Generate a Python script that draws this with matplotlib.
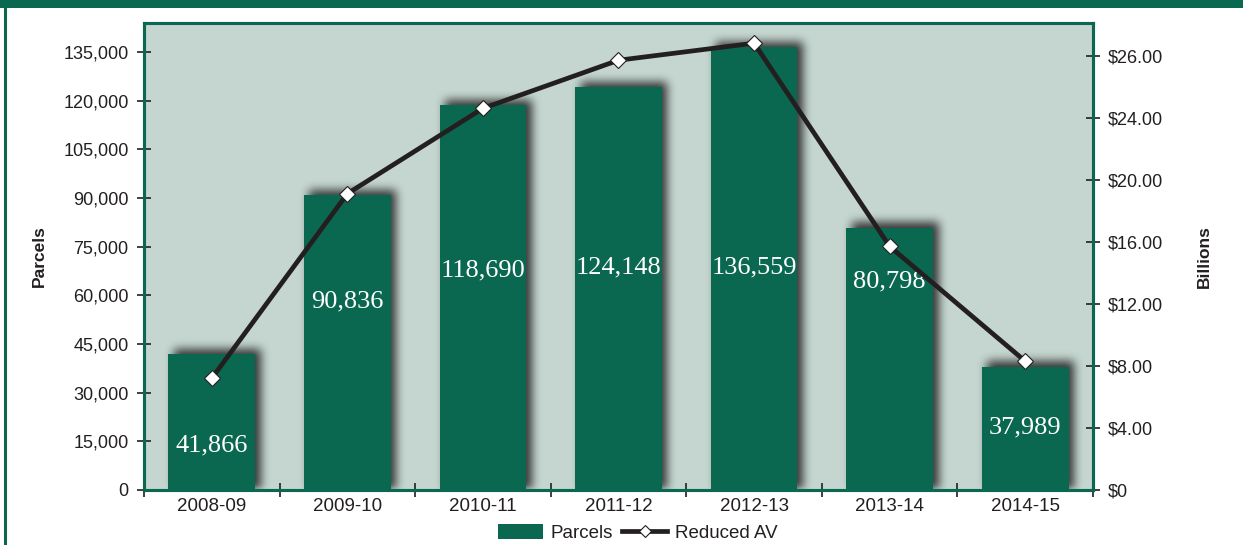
import numpy as np
import matplotlib
matplotlib.use("Agg")
import matplotlib.pyplot as plt
from matplotlib.patches import Rectangle, Patch
from matplotlib.lines import Line2D
from matplotlib.ticker import FixedLocator, FuncFormatter

years = ["2008-09", "2009-10", "2010-11", "2011-12", "2012-13", "2013-14", "2014-15"]
parcels = [41866, 90836, 118690, 124148, 136559, 80798, 37989]
reduced_av = [7.2, 19.1, 24.6, 27.7, 28.8, 15.7, 8.3]  # billions
av_ticks = [0, 4, 8, 12, 16, 20, 24, 28]
av_tick_labels = ["$0", "$4.00", "$8.00", "$12.00", "$16.00", "$20.00", "$24.00", "$26.00"]

# vertical placement of the value labels inside the bars
label_y = [13600, 58000, 67600, 68500, 68500, 64200, 19400]

GREEN = "#0a6850"
PLOT_BG = "#c4d6cf"
INK = "#231f20"

plt.rcParams["font.family"] = ["Liberation Sans", "DejaVu Sans"]

fig = plt.figure(figsize=(12.43, 5.45), dpi=100)
fig.patch.set_facecolor("white")

# header band and left rule
fig.patches.append(Rectangle((0, 1 - 8 / 545), 1, 8 / 545, transform=fig.transFigure,
                             facecolor=GREEN, edgecolor="none", zorder=0))
fig.lines.append(Line2D([5 / 1243, 5 / 1243], [0, 1 - 8 / 545], transform=fig.transFigure,
                        color=GREEN, lw=2.2))

ax = fig.add_axes([144 / 1243, 1 - 490 / 545, (1093 - 144) / 1243, (490 - 23) / 545])
ax.set_facecolor(PLOT_BG)
x = np.arange(len(years))
bars = ax.bar(x, parcels, width=0.64, color=GREEN, zorder=3)
ax.set_xlim(-0.5, len(years) - 0.5)
ax.set_ylim(0, 144000)
ax.set_yticks(np.arange(0, 135001, 15000))
ax.yaxis.set_major_formatter(FuncFormatter(lambda v, p: f"{int(v):,}"))
ax.set_xticks(x)
ax.set_xticklabels(years)
ax.xaxis.set_minor_locator(FixedLocator(np.arange(-0.5, len(years), 1.0)))
ax.tick_params(axis="x", which="major", length=0, pad=6, labelsize=13.5, labelcolor=INK)
ax.tick_params(axis="x", which="minor", direction="inout", length=10, width=1.2, color=INK)
ax.tick_params(axis="y", direction="inout", length=10, width=1.2, color=INK,
               labelsize=13, labelcolor=INK, pad=6)
for s in ax.spines.values():
    s.set_color(GREEN)
    s.set_linewidth(2.2)
ax.set_ylabel("Parcels", fontsize=12.5, fontweight="bold", color=INK, labelpad=12)

for xi, v, ly in zip(x, parcels, label_y):
    ax.text(xi, ly, f"{v:,}", ha="center", va="center", color="white",
            fontsize=19, family=["Liberation Serif", "DejaVu Serif"], zorder=4)

# blurred drop shadow behind the bars
fig.canvas.draw()
bb = ax.get_window_extent()
W, H = int(round(bb.width)), int(round(bb.height))
mask = np.zeros((H, W))
for b in bars:
    e = b.get_window_extent()
    x0 = int(e.x0 - bb.x0) + 6
    x1 = int(e.x1 - bb.x0) + 6
    y0 = int(e.y0 - bb.y0)
    y1 = int(e.y1 - bb.y0) + 6
    mask[max(y0, 0):min(y1, H), max(x0, 0):min(x1, W)] = 1.0


def box_blur(a, r):
    k = np.ones(2 * r + 1) / (2 * r + 1)
    a = np.apply_along_axis(lambda m: np.convolve(m, k, mode="same"), 0, a)
    a = np.apply_along_axis(lambda m: np.convolve(m, k, mode="same"), 1, a)
    return a


for _ in range(3):
    mask = box_blur(mask, 4)
rgba = np.zeros((H, W, 4))
rgba[..., :3] = 0.18
rgba[..., 3] = np.clip(mask * 0.95, 0, 1)
ax.imshow(rgba[::-1], extent=(ax.get_xlim()[0], ax.get_xlim()[1], 0, ax.get_ylim()[1]),
          aspect="auto", origin="upper", zorder=2, interpolation="bilinear")
ax.set_ylim(0, 144000)

ax2 = ax.twinx()
ax2.plot(x, reduced_av, color=INK, lw=3.4, marker="D", markersize=8,
         markerfacecolor="white", markeredgecolor=INK, markeredgewidth=0.8, zorder=5)
ax2.set_ylim(0, 30.1)
ax2.yaxis.set_major_locator(FixedLocator(av_ticks))
ax2.set_yticklabels(av_tick_labels)
ax2.tick_params(axis="y", direction="inout", length=10, width=1.2, color=INK,
                labelsize=13, labelcolor=INK, pad=6)
for s in ax2.spines.values():
    s.set_color(GREEN)
    s.set_linewidth(2.2)
ax2.set_ylabel("Billions", fontsize=12.5, fontweight="bold", color=INK, labelpad=24)

handles = [Patch(facecolor=GREEN, edgecolor="none"),
           Line2D([], [], color=INK, lw=3.4, marker="D", markersize=6,
                  markerfacecolor="white", markeredgecolor=INK, markeredgewidth=0.8)]
fig.legend(handles, ["Parcels", "Reduced AV"], loc="center", bbox_to_anchor=(0.513, 0.022),
           ncol=2, frameon=False, fontsize=13.5, handlelength=2.4, handleheight=0.8,
           columnspacing=0.5, handletextpad=0.4, labelcolor=INK)

fig.savefig("out.png", dpi=100, facecolor="white")
